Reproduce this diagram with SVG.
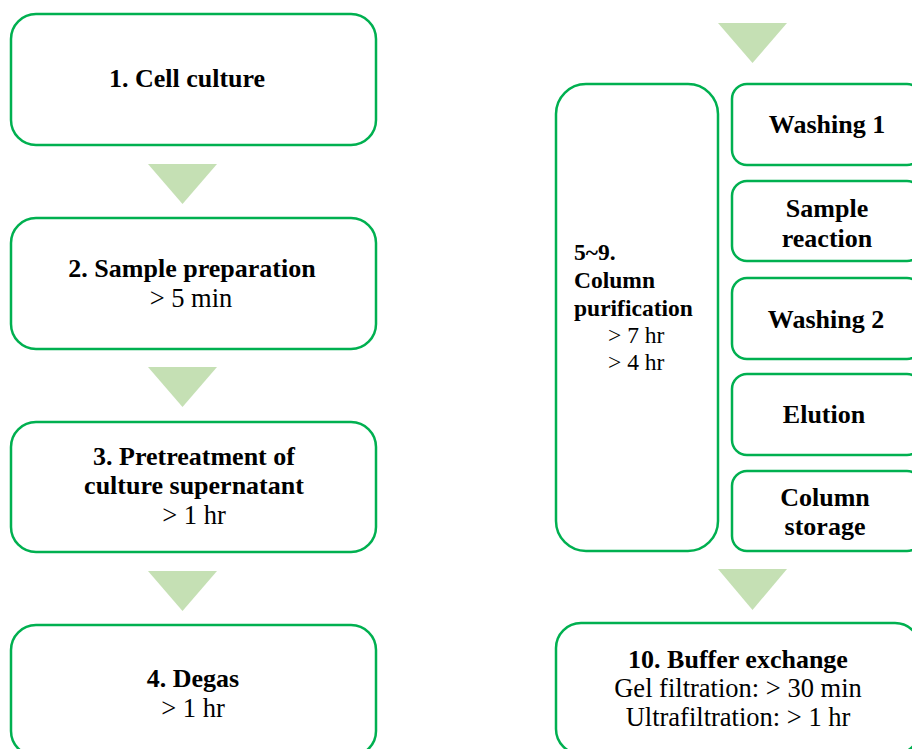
<svg xmlns="http://www.w3.org/2000/svg" width="912" height="749" viewBox="0 0 912 749">
<style>
.box{fill:#ffffff;stroke:#00B050;stroke-width:2.5}
.tri{fill:#C5E0B4;stroke:none}
text{font-family:"Liberation Serif","Times New Roman",serif;fill:#000000;text-anchor:middle}
.b{font-weight:bold;font-size:26px}
.r{font-weight:normal;font-size:26.5px}
.s{font-weight:bold;font-size:23.5px;text-anchor:start}
.sr{font-weight:normal;font-size:23.5px;text-anchor:start}
</style>
<rect width="912" height="749" fill="#ffffff"/>
<g id="connectors">
<polygon class="tri" points="148,164 217,164 182.5,204"/>
<polygon class="tri" points="148,367 217,367 182.5,407"/>
<polygon class="tri" points="148,571 217,571 182.5,611"/>
<polygon class="tri" points="718,23 787,23 752.5,63"/>
<polygon class="tri" points="718,569 787,569 752.5,610"/>
</g>
<g id="n1">
<rect class="box" x="11" y="14" width="365" height="131" rx="25"/>
<text class="b" x="187" y="87">1. Cell culture</text>
</g>
<g id="n2">
<rect class="box" x="11" y="218" width="365" height="131" rx="25"/>
<text class="b" x="192" y="277">2. Sample preparation</text>
<text class="r" x="191" y="307">&gt; 5 min</text>
</g>
<g id="n3">
<rect class="box" x="11" y="422" width="365" height="130" rx="25"/>
<text class="b" x="194" y="465">3. Pretreatment of</text>
<text class="b" x="194" y="494">culture supernatant</text>
<text class="r" x="194" y="524">&gt; 1 hr</text>
</g>
<g id="n4">
<rect class="box" x="11" y="625" width="365" height="131" rx="25"/>
<text class="b" x="193" y="687">4. Degas</text>
<text class="r" x="193" y="717">&gt; 1 hr</text>
</g>
<g id="n5_9">
<rect class="box" x="556" y="84" width="162" height="467" rx="30"/>
<text class="s" x="574" y="260">5~9.</text>
<text class="s" x="574" y="288">Column</text>
<text class="s" x="574" y="316">purification</text>
<text class="sr" x="608" y="343">&gt; 7 hr</text>
<text class="sr" x="608" y="370">&gt; 4 hr</text>
</g>
<g id="washing1">
<rect class="box" x="732" y="84" width="190" height="81" rx="15"/>
<text class="b" x="827" y="133">Washing 1</text>
</g>
<g id="sample_reaction">
<rect class="box" x="732" y="181" width="190" height="80" rx="15"/>
<text class="b" x="827" y="217">Sample</text>
<text class="b" x="827" y="247">reaction</text>
</g>
<g id="washing2">
<rect class="box" x="732" y="278" width="190" height="81" rx="15"/>
<text class="b" x="826" y="328">Washing 2</text>
</g>
<g id="elution">
<rect class="box" x="732" y="374" width="190" height="81" rx="15"/>
<text class="b" x="824" y="423">Elution</text>
</g>
<g id="column_storage">
<rect class="box" x="732" y="471" width="190" height="80" rx="15"/>
<text class="b" x="825" y="506">Column</text>
<text class="b" x="825" y="535">storage</text>
</g>
<g id="n10">
<rect class="box" x="556" y="623" width="364" height="131" rx="25"/>
<text class="b" x="738" y="668">10. Buffer exchange</text>
<text class="r" x="738" y="697">Gel filtration: &gt; 30 min</text>
<text class="r" x="738" y="726">Ultrafiltration: &gt; 1 hr</text>
</g>
</svg>
